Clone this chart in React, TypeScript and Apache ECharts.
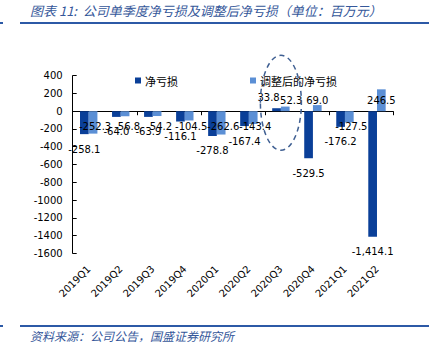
import React, { useEffect, useRef } from "react";
import * as echarts from "echarts";

const categories = ["2019Q1", "2019Q2", "2019Q3", "2019Q4", "2020Q1", "2020Q2", "2020Q3", "2020Q4", "2021Q1", "2021Q2"];
const netLoss = [-258.1, -64.0, -63.9, -116.1, -278.8, -167.4, 33.8, -529.5, -176.2, -1414.1];
const adjNetLoss = [-252.3, -56.8, -54.2, -104.5, -262.6, -143.4, 52.3, 69.0, -127.5, 246.5];
const seriesNames = ["净亏损", "调整后的净亏损"];
const titleText = "图表 11:  公司单季度净亏损及调整后净亏损（单位：百万元）";
const sourceText = "资料来源：公司公告，国盛证券研究所";
const highlightCategory = "2020Q3";

const DARK = "#0a3f98";
const LIGHT = "#5b8fd5";
const NUM_FONT = "DejaVu Sans";
const CJK_FONT = "Noto Sans CJK SC";

function fmt(v: number): string {
  const s = Math.abs(v).toFixed(1);
  const [i, d] = s.split(".");
  const withComma = i.replace(/\B(?=(\d{3})+(?!\d))/g, ",");
  return (v < 0 ? "-" : "") + withComma + "." + d;
}

export default function App() {
  const ref = useRef<HTMLDivElement>(null);
  useEffect(() => {
    if (!ref.current) return;
    const chart = echarts.init(ref.current, undefined, { renderer: "svg" });
    const labelBase = {
      show: true,
      color: "#000",
      fontFamily: NUM_FONT,
      fontSize: 10,
      formatter: (p: any) => fmt(p.value),
    };
    const darkData = netLoss.map((v, i) => ({
      value: v,
      label:
        v < 0
          ? { position: "bottom", distance: 10 }
          : { position: "top", distance: 6, offset: categories[i] === highlightCategory ? [-8, 0] : [0, 0] },
    }));
    const lightData = adjNetLoss.map((v, i) => ({
      value: v,
      label:
        v < 0
          ? { position: "insideTop", distance: 10, offset: [2, 0] }
          : {
              position: "insideBottom",
              distance: 6,
              offset: categories[i] === highlightCategory ? [6, 0] : [0, 0],
            },
    }));
    const option: any = {
      animation: false,
      backgroundColor: "#fff",
      grid: { left: 72.7, right: 36, top: 75.7, bottom: 353 - 253.3, containLabel: false },
      legend: {
        top: 70,
        left: 130,
        itemWidth: 6,
        itemHeight: 6,
        itemGap: 72,
        icon: "rect",
        textStyle: { fontFamily: CJK_FONT, fontSize: 11, color: "#000", padding: [0, 0, 0, -1] },
        data: seriesNames,
      },
      xAxis: [
        {
          type: "category",
          data: categories,
          axisLine: { show: true, onZero: true, lineStyle: { color: "#000", width: 1 } },
          axisTick: { show: true, length: 4, inside: false, lineStyle: { color: "#000" } },
          axisLabel: { show: false },
          splitLine: { show: false },
        },
        {
          type: "category",
          data: categories,
          position: "bottom",
          axisLine: { show: false, onZero: false },
          axisTick: { show: false },
          axisLabel: {
            show: true,
            rotate: 45,
            margin: 14,
            fontFamily: NUM_FONT,
            fontSize: 10,
            color: "#000",
            interval: 0,
          },
          splitLine: { show: false },
        },
      ],
      yAxis: {
        type: "value",
        min: -1600,
        max: 400,
        interval: 200,
        axisLine: { show: true, lineStyle: { color: "#000", width: 1 } },
        axisTick: { show: true, inside: true, length: 4, lineStyle: { color: "#000" } },
        axisLabel: {
          fontFamily: NUM_FONT,
          fontSize: 10,
          color: "#000",
          margin: 10,
          formatter: (v: number) => String(v),
        },
        splitLine: { show: false },
      },
      series: [
        {
          name: seriesNames[0],
          type: "bar",
          xAxisIndex: 0,
          data: darkData,
          barWidth: 8.7,
          barGap: "0%",
          itemStyle: { color: DARK },
          label: labelBase,
        },
        {
          name: seriesNames[1],
          type: "bar",
          xAxisIndex: 0,
          data: lightData,
          barWidth: 8.7,
          barGap: "0%",
          itemStyle: { color: LIGHT },
          label: labelBase,
        },
      ],
    };
    chart.setOption(option);

    const cx = chart.convertToPixel({ xAxisIndex: 0 }, highlightCategory) as number;
    const cy = chart.convertToPixel({ yAxisIndex: 0 }, 95) as number;

    chart.setOption({
      graphic: [
        {
          type: "text",
          left: 30,
          top: 4,
          style: {
            text: titleText,
            fill: "#35579a",
            font: `italic 13px "${CJK_FONT}"`,
          },
        },
        {
          type: "line",
          shape: { x1: 20, y1: 23, x2: 429, y2: 23 },
          style: { stroke: "#2c59a6", lineWidth: 2 },
        },
        {
          type: "line",
          shape: { x1: 0, y1: 23, x2: 3, y2: 23 },
          style: { stroke: "#2c59a6", lineWidth: 2 },
        },
        {
          type: "line",
          shape: { x1: 20, y1: 326, x2: 429, y2: 326 },
          style: { stroke: "#2c59a6", lineWidth: 2 },
        },
        {
          type: "line",
          shape: { x1: 0, y1: 326, x2: 3, y2: 326 },
          style: { stroke: "#2c59a6", lineWidth: 2 },
        },
        {
          type: "text",
          left: 30,
          top: 329,
          style: {
            text: sourceText,
            fill: "#35579a",
            font: `italic 12px "${CJK_FONT}"`,
          },
        },
        {
          type: "ellipse",
          shape: { cx, cy, rx: 20.5, ry: 47.5 },
          style: { fill: "none", stroke: "#3f5f92", lineWidth: 1.5, lineDash: [5, 4] },
          z: 100,
        },
      ],
    });
    return () => chart.dispose();
  }, []);
  return <div ref={ref} style={{ width: 429, height: 353, position: "absolute", left: 0, top: 0 }} />;
}
